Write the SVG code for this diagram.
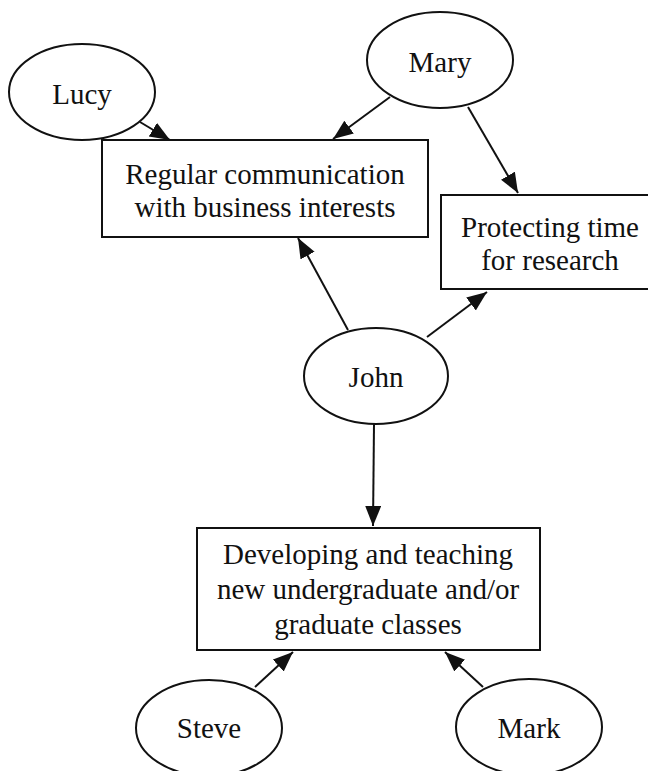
<svg xmlns="http://www.w3.org/2000/svg" width="648" height="771" viewBox="0 0 648 771">
<style>
.n{fill:#fff;stroke:#111;stroke-width:2}
.t{font-family:"Liberation Serif","Times New Roman",serif;font-size:29px;fill:#111;text-anchor:middle}
.e{stroke:#111;stroke-width:2;fill:none;marker-end:url(#ah)}
</style>
<defs>
<marker id="ah" markerUnits="userSpaceOnUse" markerWidth="22" markerHeight="18" refX="20" refY="8" orient="auto">
<path d="M0,0 L20,8 L0,16 z" fill="#111"/>
</marker>
</defs>
<rect width="648" height="771" fill="#fff"/>
<g id="edges">
<line class="e" x1="140" y1="122" x2="170" y2="140"/>
<line class="e" x1="390" y1="97" x2="333" y2="139"/>
<line class="e" x1="468" y1="107" x2="518" y2="193"/>
<line class="e" x1="348" y1="330" x2="298" y2="238"/>
<line class="e" x1="427" y1="337" x2="487" y2="292"/>
<line class="e" x1="374" y1="424" x2="373" y2="526"/>
<line class="e" x1="255" y1="687" x2="293" y2="652"/>
<line class="e" x1="483" y1="687" x2="445" y2="652"/>
</g>
<g id="lucy">
<ellipse class="n" cx="82" cy="92" rx="73" ry="48"/>
<text class="t" x="82" y="104">Lucy</text>
</g>
<g id="mary">
<ellipse class="n" cx="440" cy="60" rx="73" ry="48"/>
<text class="t" x="440" y="72">Mary</text>
</g>
<g id="regular">
<rect class="n" x="102" y="140" width="326" height="97"/>
<text class="t" x="265" y="184">Regular communication</text>
<text class="t" x="265" y="217">with business interests</text>
</g>
<g id="protecting">
<rect class="n" x="441" y="195" width="218" height="94"/>
<text class="t" x="550" y="237">Protecting time</text>
<text class="t" x="550" y="270">for research</text>
</g>
<g id="john">
<ellipse class="n" cx="376" cy="376" rx="72" ry="48"/>
<text class="t" x="376" y="387">John</text>
</g>
<g id="developing">
<rect class="n" x="197" y="528" width="343" height="122"/>
<text class="t" x="368" y="564">Developing and teaching</text>
<text class="t" x="368" y="599">new undergraduate and/or</text>
<text class="t" x="368" y="634">graduate classes</text>
</g>
<g id="steve">
<ellipse class="n" cx="209" cy="728" rx="73" ry="48"/>
<text class="t" x="209" y="738">Steve</text>
</g>
<g id="mark">
<ellipse class="n" cx="529" cy="727" rx="73" ry="48"/>
<text class="t" x="529" y="738">Mark</text>
</g>
</svg>
